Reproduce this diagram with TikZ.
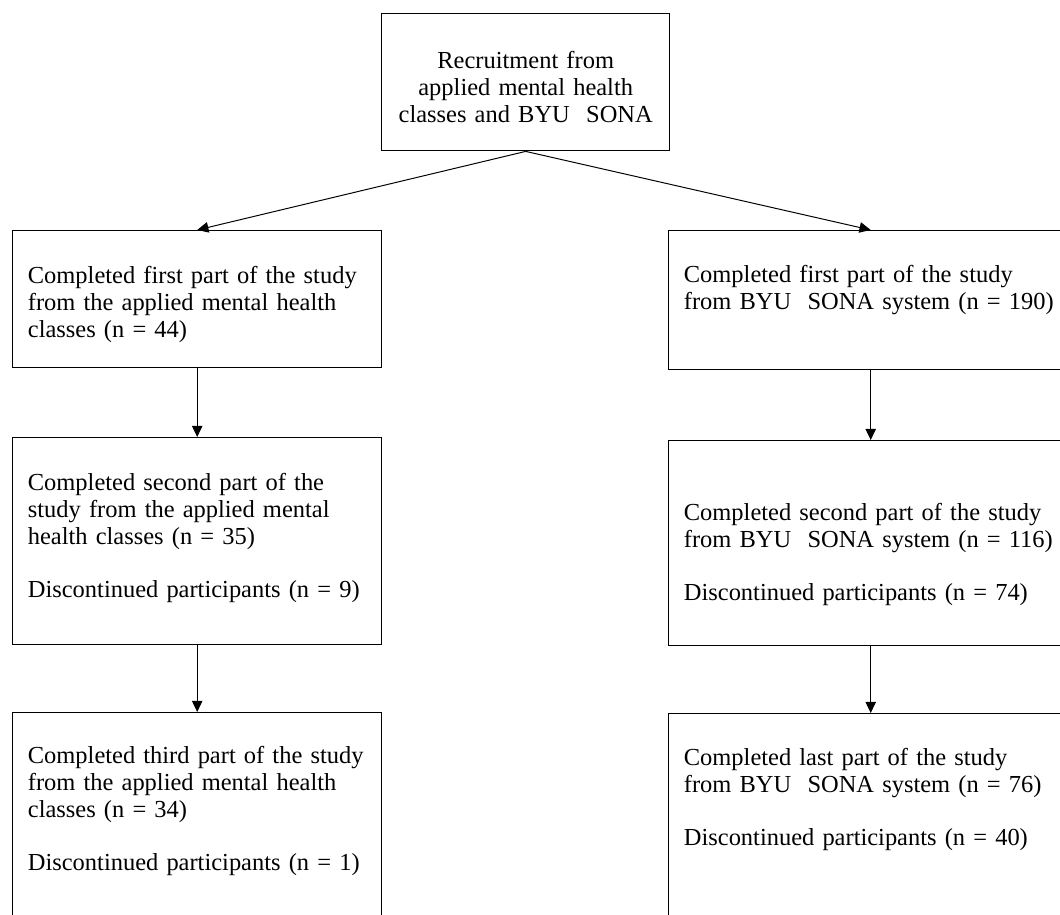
\documentclass[tikz,border=0pt]{standalone}
\usepackage{fontspec}
\setmainfont{Liberation Serif}
\usetikzlibrary{arrows.meta}

\begin{document}
\begin{tikzpicture}[
	stage/.style={draw,line width=1pt,anchor=north west,inner sep=0pt,align=left,font=\fontsize{17.4}{19}\selectfont,execute at begin node={\leftskip=0.38cm}},
	flow/.style={-{Triangle[length=8pt,width=7.5pt]},line width=0.7pt}]
	\useasboundingbox (0,0) rectangle (26.5,22.85);
	\clip (0,0) rectangle (26.5,22.85);
	% recruitment
	\node[draw,line width=1pt,anchor=north west,inner sep=0pt,align=center,font=\fontsize{17.4}{19}\selectfont,text width=7.2cm,text height=1.375cm,text depth=2.05cm] (recruit) at (9.525,22.525) {Recruitment from\\applied mental health\\classes and BYU\ \ SONA};
	% applied mental health classes
	\node[stage,text width=9.225cm,text height=1.325cm,text depth=2.1cm] (class1) at (0.3,17.1) {Completed first part of the study\\from the applied mental health\\classes (n = 44)};
	\node[stage,text width=9.225cm,text height=1.325cm,text depth=3.85cm] (class2) at (0.3,11.925) {Completed second part of the\\study from the applied mental\\health classes (n = 35)\\[19pt]Discontinued participants (n = 9)};
	\node[stage,text width=9.225cm,text height=1.275cm,text depth=6cm] (class3) at (0.3,5.05) {Completed third part of the study\\from the applied mental health\\classes (n = 34)\\[19pt]Discontinued participants (n = 1)};
	% BYU SONA system
	\node[stage,text width=10.1cm,text height=1.3cm,text depth=2.175cm] (sona1) at (16.7,17.1) {Completed first part of the study\\from BYU\ \ SONA system (n = 190)};
	\node[stage,text width=10.1cm,text height=2cm,text depth=3.125cm] (sona2) at (16.7,11.85) {Completed second part of the study\\from BYU\ \ SONA system (n = 116)\\[19pt]Discontinued participants (n = 74)};
	\node[stage,text width=10.1cm,text height=1.3cm,text depth=6cm] (sona3) at (16.7,5.025) {Completed last part of the study\\from BYU\ \ SONA system (n = 76)\\[19pt]Discontinued participants (n = 40)};
	\draw[flow] (recruit.south) -- (class1.north);
	\draw[flow] (recruit.south) -- (sona1.north);
	\draw[flow] (class1) -- (class2);
	\draw[flow] (class2) -- (class3);
	\draw[flow] (sona1) -- (sona2);
	\draw[flow] (sona2) -- (sona3);
\end{tikzpicture}
\end{document}
